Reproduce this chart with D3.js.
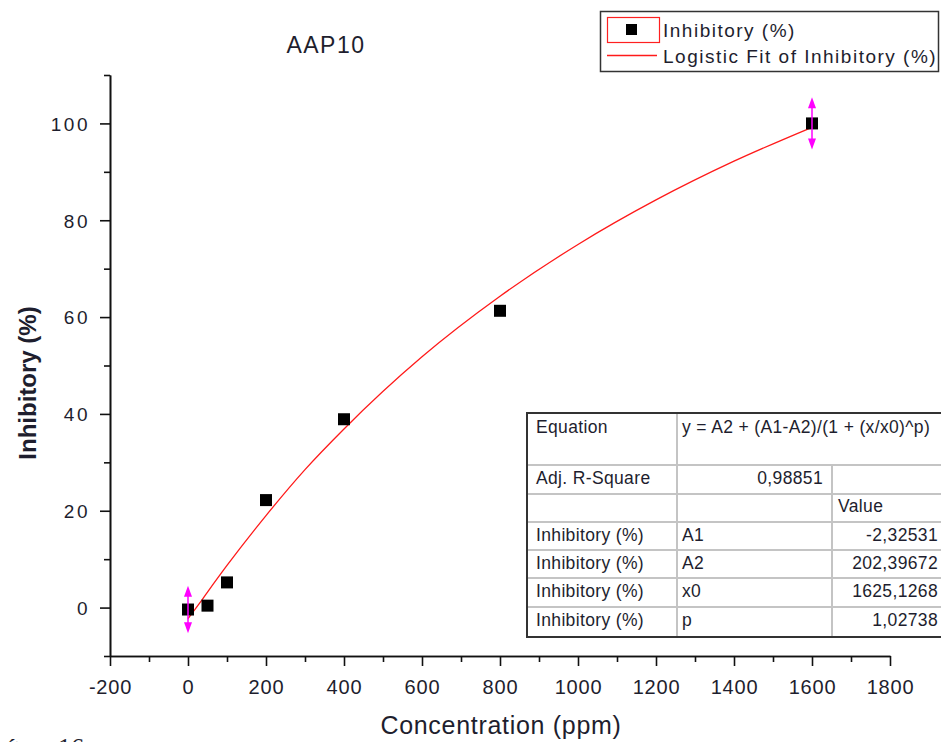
<!DOCTYPE html>
<html>
<head>
<meta charset="utf-8">
<script src="https://cdn.jsdelivr.net/npm/d3@7"></script>
<style>
  body { margin: 0; background: #fff; }
  svg { display: block; }
  text { font-family: "Liberation Sans", Arial, sans-serif; fill: #1e1e2e; }
</style>
</head>
<body>
<div id="chart"></div>
<script>
// measured points
var concentration = [0, 50, 100, 200, 400, 800, 1600];
var inhibitory = [-0.4, 0.4, 5.2, 22.2, 38.9, 61.3, 100];
var errors = [4.9, 0, 0, 0, 0, 0, 5.4];

// logistic fit curve
var fitX = [0, 25, 50, 100, 200, 300, 400, 600, 800, 1000, 1200, 1400, 1600];
var fitY = [-2.3, 0.4, 3.2, 8.7, 19.0, 28.5, 36.9, 51.8, 64.3, 75.0, 84.2, 92.2, 99.2];

var xTicks = [-200, 0, 200, 400, 600, 800, 1000, 1200, 1400, 1600, 1800];
var yTicks = [0, 20, 40, 60, 80, 100];

var tableCol1 = ["Equation", "Adj. R-Square", "", "Inhibitory (%)", "Inhibitory (%)", "Inhibitory (%)", "Inhibitory (%)"];
var tableCol2 = ["y = A2 + (A1-A2)/(1 + (x/x0)^p)", "", "", "A1", "A2", "x0", "p"];
var tableCol2Right = ["", "0,98851", "", "", "", "", ""];
var tableCol3 = ["", "", "Value", "-2,32531", "202,39672", "1625,1268", "1,02738"];

function init() {
  var w = 941, h = 742;

  var svg = d3.select("#chart").append("svg")
      .attr("width", w).attr("height", h);

  svg.append("rect").attr("width", w).attr("height", h).attr("fill", "#fff");

  var xScale = d3.scaleLinear().domain([-200, 1800]).range([110, 890]);
  var yScale = d3.scaleLinear().domain([-10, 110]).range([656, 75]);

  // minor ticks first
  var xMinor = d3.axisBottom(xScale)
      .tickValues(d3.range(-100, 1800, 200))
      .tickSize(6).tickSizeOuter(0).tickFormat("");
  var yMinor = d3.axisLeft(yScale)
      .tickValues(d3.range(-10, 111, 20))
      .tickSize(6).tickSizeOuter(0).tickFormat("");

  svg.append("g").attr("transform", "translate(0,656)").call(xMinor);
  svg.append("g").attr("transform", "translate(110,0)").call(yMinor);

  var plain = function(d) { return String(d); };
  var xAxis = d3.axisBottom(xScale).tickValues(xTicks).tickFormat(plain)
      .tickSize(10).tickSizeOuter(0).tickPadding(14);
  var yAxis = d3.axisLeft(yScale).tickValues(yTicks).tickFormat(plain)
      .tickSize(10).tickSizeOuter(0).tickPadding(10);

  var gx = svg.append("g").attr("transform", "translate(0,656)").call(xAxis);
  var gy = svg.append("g").attr("transform", "translate(110,0)").call(yAxis);

  svg.selectAll(".domain, .tick line").attr("stroke", "#111").attr("stroke-width", 1.6);

  gx.selectAll("text")
    .style("font-size", "20px").style("letter-spacing", "0.8px")
    .attr("fill", "#1e1e2e").attr("font-family", null);
  gy.selectAll("text")
    .style("font-size", "19px").style("letter-spacing", "2.5px")
    .attr("dy", "0.36em")
    .attr("fill", "#1e1e2e").attr("font-family", null);

  // fit line
  var line = d3.line()
      .x(function(d, i) { return xScale(fitX[i]); })
      .y(function(d) { return yScale(d); })
      .curve(d3.curveMonotoneX);

  svg.append("path")
    .datum(fitY)
    .attr("d", line)
    .attr("fill", "none")
    .attr("stroke", "#ff1a1a")
    .attr("stroke-width", 1.3);

  var pts = concentration.map(function(c, i) {
    return { x: c, y: inhibitory[i], e: errors[i] };
  });

  // squares
  svg.selectAll("rect.pt")
    .data(pts).enter().append("rect")
    .attr("class", "pt")
    .attr("x", function(d) { return xScale(d.x) - 6; })
    .attr("y", function(d) { return yScale(d.y) - 6; })
    .attr("width", 12).attr("height", 12)
    .attr("fill", "#000");

  // error bars with arrow heads
  var eb = svg.selectAll("g.err")
    .data(pts.filter(function(d) { return d.e > 0; }))
    .enter().append("g").attr("class", "err");

  eb.append("line")
    .attr("x1", function(d) { return xScale(d.x); })
    .attr("x2", function(d) { return xScale(d.x); })
    .attr("y1", function(d) { return yScale(d.y + d.e) + 4; })
    .attr("y2", function(d) { return yScale(d.y - d.e) - 4; })
    .attr("stroke", "#ff00ff").attr("stroke-width", 1.5);

  eb.append("path")
    .attr("d", function(d) {
      var cx = xScale(d.x), t = yScale(d.y + d.e);
      return "M" + cx + "," + t + "L" + (cx - 4) + "," + (t + 11) + "L" + (cx + 4) + "," + (t + 11) + "Z";
    })
    .attr("fill", "#ff00ff");
  eb.append("path")
    .attr("d", function(d) {
      var cx = xScale(d.x), b = yScale(d.y - d.e);
      return "M" + cx + "," + b + "L" + (cx - 4) + "," + (b - 11) + "L" + (cx + 4) + "," + (b - 11) + "Z";
    })
    .attr("fill", "#ff00ff");

  // titles
  svg.append("text")
    .attr("x", 326).attr("y", 53)
    .attr("text-anchor", "middle")
    .style("font-size", "23px").style("letter-spacing", "1.5px")
    .text("AAP10");

  svg.append("text")
    .attr("x", 501).attr("y", 734)
    .attr("text-anchor", "middle")
    .style("font-size", "25px").style("letter-spacing", "0.7px")
    .text("Concentration (ppm)");

  svg.append("text")
    .attr("transform", "translate(36,383) rotate(-90)")
    .attr("text-anchor", "middle")
    .style("font-size", "24px").style("font-weight", "bold")
    .text("Inhibitory (%)");

  // legend
  var lg = svg.append("g");
  lg.append("rect")
    .attr("x", 600.5).attr("y", 11.5).attr("width", 338).attr("height", 60)
    .attr("fill", "#fff").attr("stroke", "#333").attr("stroke-width", 1.5);
  lg.append("rect")
    .attr("x", 607.5).attr("y", 17.5).attr("width", 52).attr("height", 25)
    .attr("fill", "none").attr("stroke", "#ff2020").attr("stroke-width", 1.2);
  lg.append("rect")
    .attr("x", 626).attr("y", 24).attr("width", 11).attr("height", 11).attr("fill", "#000");
  lg.append("line")
    .attr("x1", 607).attr("x2", 657).attr("y1", 55.5).attr("y2", 55.5)
    .attr("stroke", "#ff1a1a").attr("stroke-width", 1.3);
  lg.append("text").attr("x", 663).attr("y", 37)
    .style("font-size", "19px").style("letter-spacing", "1.5px")
    .text("Inhibitory (%)");
  lg.append("text").attr("x", 663).attr("y", 63)
    .style("font-size", "19px").style("letter-spacing", "1.5px")
    .text("Logistic Fit of Inhibitory (%)");

  // parameter table
  var rowY = [413, 465, 494, 522, 550, 578, 607, 637];
  var colX = [527, 677, 832, 941];
  var tb = svg.append("g");
  tb.append("rect")
    .attr("x", colX[0]).attr("y", rowY[0])
    .attr("width", colX[3] - colX[0]).attr("height", rowY[7] - rowY[0])
    .attr("fill", "#fff");

  tb.selectAll("line.row")
    .data(rowY.slice(1, 7)).enter().append("line")
    .attr("x1", colX[0]).attr("x2", colX[3])
    .attr("y1", function(d) { return d; }).attr("y2", function(d) { return d; })
    .attr("stroke", "#c4c4c4").attr("stroke-width", 2);
  tb.append("line")
    .attr("x1", colX[1]).attr("x2", colX[1]).attr("y1", rowY[0]).attr("y2", rowY[7])
    .attr("stroke", "#c4c4c4").attr("stroke-width", 2);
  tb.append("line")
    .attr("x1", colX[2]).attr("x2", colX[2]).attr("y1", rowY[1]).attr("y2", rowY[7])
    .attr("stroke", "#c4c4c4").attr("stroke-width", 2);
  tb.append("path")
    .attr("d", "M" + colX[3] + "," + rowY[0] + "H" + colX[0] + "V" + rowY[7] + "H" + colX[3])
    .attr("fill", "none").attr("stroke", "#333").attr("stroke-width", 2);

  var baseY = [433, 484, 512, 541, 569, 597, 626];
  var tstyle = function(sel) {
    return sel.style("font-size", "17.5px").style("letter-spacing", "0.35px").attr("fill", "#1a1a1a");
  };
  tstyle(tb.selectAll("text.c1").data(tableCol1).enter().append("text")
    .attr("x", 536).attr("y", function(d, i) { return baseY[i]; })
    .text(function(d) { return d; }));
  tstyle(tb.selectAll("text.c2").data(tableCol2).enter().append("text")
    .attr("x", 682).attr("y", function(d, i) { return baseY[i]; })
    .text(function(d) { return d; }));
  tstyle(tb.selectAll("text.c2r").data(tableCol2Right).enter().append("text")
    .attr("x", 823).attr("y", function(d, i) { return baseY[i]; })
    .attr("text-anchor", "end")
    .text(function(d) { return d; }));
  tstyle(tb.selectAll("text.c3").data(tableCol3).enter().append("text")
    .attr("x", function(d, i) { return i === 2 ? 838 : 938; })
    .attr("y", function(d, i) { return baseY[i]; })
    .attr("text-anchor", function(d, i) { return i === 2 ? "start" : "end"; })
    .text(function(d) { return d; }));

  // cut-off caption text from the page underneath
  var cap = svg.append("text").attr("y", 756)
    .style("font-family", "'Liberation Serif', 'Times New Roman', serif")
    .style("font-size", "26px").attr("fill", "#000");
  cap.append("tspan").attr("x", 4).text("ứu");
  cap.append("tspan").attr("x", 58).text("16");
}

window.onload = init;
</script>
</body>
</html>
